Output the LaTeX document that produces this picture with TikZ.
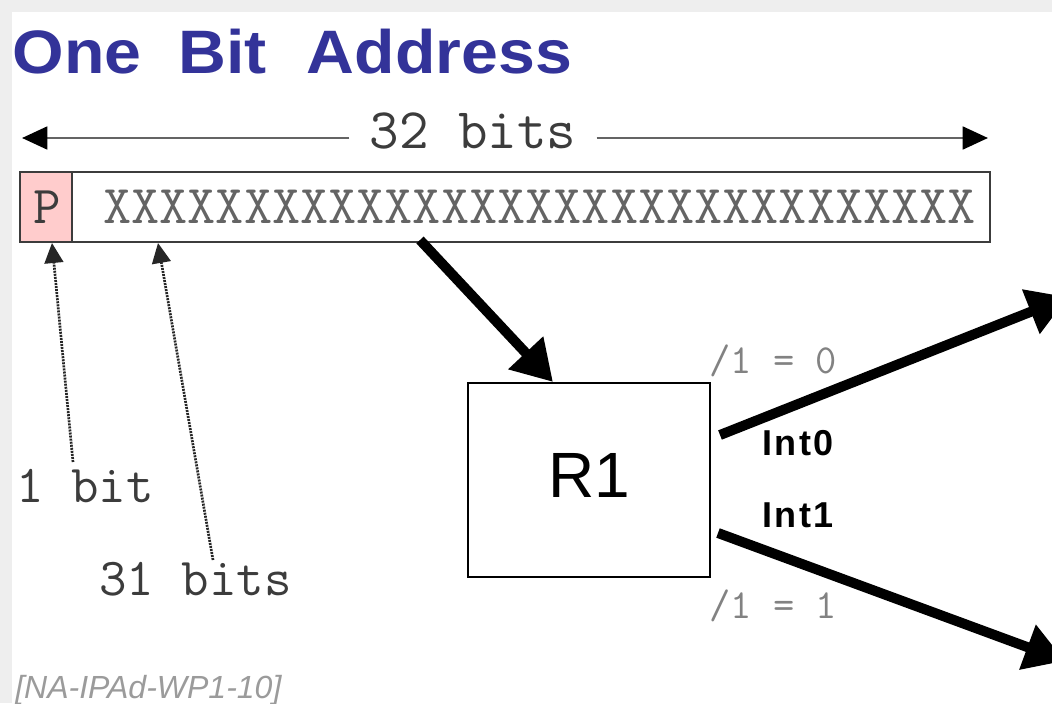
\documentclass[tikz,border=0pt]{standalone}
\usepackage{fontspec}
\usepackage{graphicx}
\usetikzlibrary{arrows.meta}
\newfontfamily\sansf{Liberation Sans}
\newfontfamily\sansspaced[LetterSpace=7]{Liberation Sans}
\definecolor{titleblue}{RGB}{51,51,153}
\definecolor{pinkcell}{RGB}{255,204,204}
\definecolor{framegray}{RGB}{238,238,238}
\definecolor{textgray}{RGB}{60,60,60}
\definecolor{lightlabel}{RGB}{130,130,130}
\definecolor{linegray}{RGB}{100,100,100}
\def\px{0.75pt}
\tikzset{
  x=0.75pt, y=-0.75pt,
  mono/.style={font=\ttfamily\fontsize{40}{44}\selectfont, text=textgray, inner sep=0pt},
  slabel/.style={font=\ttfamily\fontsize{31}{34}\selectfont, text=lightlabel, inner sep=0pt, anchor=base west},
  intlabel/.style={font=\sansspaced\bfseries\fontsize{27}{30}\selectfont, text=black, inner sep=0pt, anchor=base west},
  span arrow/.style={-{Triangle[length=19pt,width=17pt,color=black]}, draw=linegray, line width=2.2pt},
  big arrow/.style={-{Triangle[length=30pt,width=34pt]}, draw=black, line width=7.5pt},
  dot arrow/.style={-{Triangle[length=15pt,width=14pt]}, draw=black!85, line width=2pt, dash pattern=on 1.5pt off 0.8pt},
  cellbox/.style={draw=textgray, line width=2pt, minimum height=70*\px, inner sep=0pt}
}
\begin{document}
\begin{tikzpicture}
\useasboundingbox (0,0) rectangle (1052,703);
\fill[framegray] (0,0) rectangle (1052,703);
\fill[white] (12,12) rectangle (1052,703);

% title
\node[font=\sansf\bfseries\fontsize{46}{50}\selectfont, text=titleblue, inner sep=0pt, anchor=base west] (title) at (12.4,73)
  {\scalebox{1.08}[1]{One\hspace{25.5pt}Bit\hspace{28pt}Address}};

% 32 bits span
\node[mono, font=\ttfamily\fontsize{43}{46}\selectfont, inner xsep=15pt, anchor=base] (t32) at (473,148) {32 bits};
\coordinate (lt) at (22,138);
\coordinate (rt) at (988,138);
\draw[span arrow] (t32.west |- lt) -- (lt);
\draw[span arrow] (t32.east |- rt) -- (rt);

% address bar
\node[cellbox, minimum width=970*\px] (bar) at (505,207) {};
\node[cellbox, fill=pinkcell, minimum width=52*\px] (pcell) at (46,207) {};
\node[mono, anchor=base] (p) at (47,223) {P};
\node[mono, font=\ttfamily\fontsize{41}{44}\selectfont, anchor=base west, text=linegray] (xs) at (103,223) {XXXXXXXXXXXXXXXXXXXXXXXXXXXXXXX};

% router
\node[draw=black, line width=1.8pt, minimum width=242*\px, minimum height=194*\px, inner sep=0pt,
      font=\sansf\fontsize{48}{52}\selectfont] (r1) at (589,480) {\raisebox{7.5pt}{R1}};

% labels
\node[mono, anchor=base west] (b1) at (16,502) {1 bit};
\node[mono, anchor=base west] (b31) at (99,595) {31 bits};
\node[slabel] (s0) at (709,373) {/1 = 0};
\node[slabel] (s1) at (709,618) {/1 = 1};
\node[intlabel] (int0) at (762,455) {Int0};
\node[intlabel] (int1) at (762,527) {Int1};
\node[font=\sansf\itshape\fontsize{24}{26}\selectfont, text=lightlabel!80, inner sep=0pt, anchor=base west] (ref) at (15,698) {[NA-IPAd-WP1-10]};

% connectors
\coordinate (b1top) at (73,462);
\coordinate (ptip) at (52,243);
\coordinate (b31top) at (213,560);
\coordinate (xtip) at (158,243);
\draw[dot arrow] (b1top) -- (ptip);
\draw[dot arrow] (b31top) -- (xtip);

\coordinate (m0) at (420,240);
\coordinate (m1) at (553,382);
\draw[big arrow] (m0) -- (m1);

\coordinate (i0s) at (720,435);
\coordinate (i0e) at (1068,297);
\coordinate (i1s) at (718,533);
\coordinate (i1e) at (1065,661);
\draw[big arrow] (i0s) -- (i0e);
\draw[big arrow] (i1s) -- (i1e);
\end{tikzpicture}
\end{document}
